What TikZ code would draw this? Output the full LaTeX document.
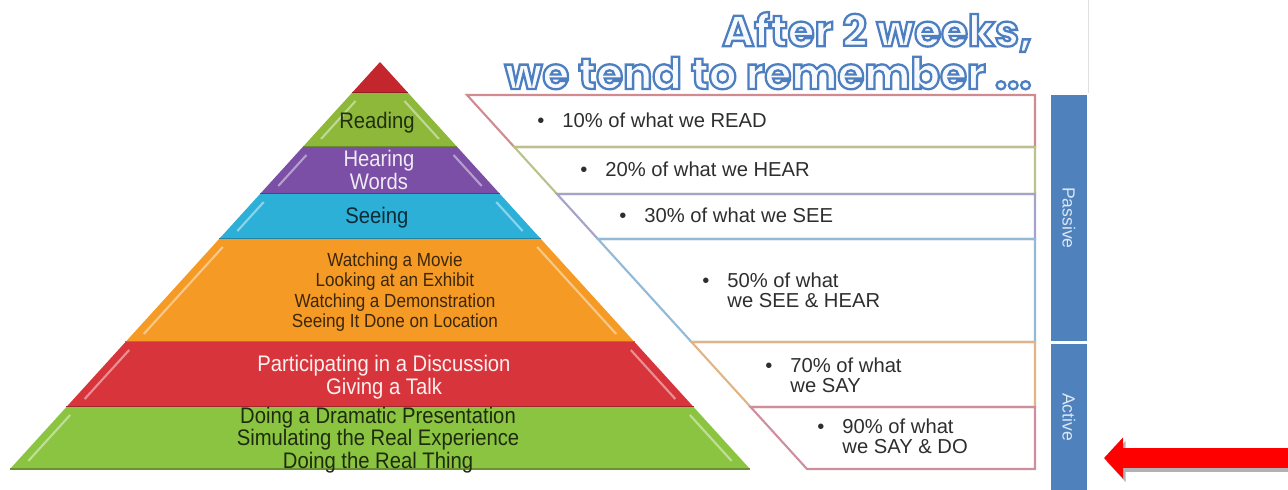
\documentclass[tikz,border=0pt]{standalone}
\usepackage{fontspec}
\setmainfont{Liberation Sans}
\newfontfamily\narrowfont[FakeStretch=0.9]{Liberation Sans}
\newfontfamily\titlefont{Poppins}
\usetikzlibrary{arrows.meta}

\definecolor{tipred}{HTML}{C4262E}
\definecolor{readgreen}{HTML}{8DB83A}
\definecolor{hearpurple}{HTML}{7A4FA5}
\definecolor{seeblue}{HTML}{2DB0D8}
\definecolor{watchorange}{HTML}{F59A25}
\definecolor{talkred}{HTML}{D8343C}
\definecolor{dogreen}{HTML}{8BC440}
\definecolor{rowred}{HTML}{D08A90}
\definecolor{rowgreen}{HTML}{B9C28C}
\definecolor{rowpurple}{HTML}{A3A3CC}
\definecolor{rowblue}{HTML}{92B9D6}
\definecolor{roworange}{HTML}{E2B384}
\definecolor{rowpink}{HTML}{CF8E9E}
\definecolor{barblue}{HTML}{4F81BD}
\definecolor{bartext}{HTML}{DDE7F3}
\definecolor{titlewhite}{HTML}{F6F9FD}
\definecolor{textgray}{HTML}{2E2E2E}

% bullet in front, text lines aligned after it
\newcommand{\point}[1]{\begin{tabular}{@{}l@{\hspace{0.36cm}}l@{}}\textbullet & #1\end{tabular}}
% hollow letters: white fill, blue stroke
\newcommand{\hollow}[1]{\special{pdf:literal direct 2 Tr 1.3 w 0.298 0.494 0.753 RG}#1\special{pdf:literal direct 0 Tr}}

\begin{document}
\begin{tikzpicture}
	[x=0.02cm,y=-0.02cm,
		layer text/.style={align=center,inner sep=0pt,font=\narrowfont\fontsize{12.8}{11.4}\selectfont},
		recall/.style={anchor=west,inner sep=0pt,text=textgray,font=\fontsize{11.5}{11.4}\selectfont},
		bar/.style={fill=barblue,text=bartext,rotate=-90,minimum height=0.72cm,inner sep=0pt,font=\fontsize{10}{12}\selectfont},
		headline/.style={anchor=east,inner sep=0pt,text=titlewhite,font=\titlefont\bfseries\fontsize{24.8}{28}\selectfont},
		red arrow/.style={line width=0.4cm,red,-{Triangle[length=0.38cm,width=0.8cm]}}]

	\useasboundingbox (0,0) rectangle (1288,490);

	% pyramid, apex at (380,62)
	\foreach \yt/\yb/\col in {62/93/tipred, 93/147/readgreen, 147/194/hearpurple, 194/239/seeblue, 239/342/watchorange, 342/407/talkred, 407/469/dogreen}{
		\pgfmathsetmacro\wt{0.909*(\yt-62)}
		\pgfmathsetmacro\wb{0.909*(\yb-62)}
		\pgfmathsetmacro\hb{0.909*(\yb-70)}
		\pgfmathsetmacro\ht{0.909*(\yt-54)}
		\fill[\col] (380-\wt,\yt) -- (380+\wt,\yt) -- (380+\wb,\yb) -- (380-\wb,\yb) -- cycle;
		\draw[\col!75!black,line width=1.2] (380-\wb,\yb) -- (380+\wb,\yb);
		% light bevel on both sides
		\ifnum\yt>62
		\draw[\col!55!white,line width=1.2] (391-\hb,\yb-8) -- (391-\ht,\yt+8);
		\draw[\col!55!white,line width=1.2] (369+\hb,\yb-8) -- (369+\ht,\yt+8);
		\fi
	}

	\node[layer text,text=readgreen!25!black] (reading) at (377,123) {Reading};
	\node[layer text,text=hearpurple!12!white] (hearing) at (379,170) {Hearing\\Words};
	\node[layer text,text=seeblue!25!black] (seeing) at (377,218) {Seeing};
	\node[layer text,text=watchorange!25!black,font=\narrowfont\fontsize{10.8}{11.5}\selectfont] (watching) at (395,292) {Watching a Movie\\Looking at an Exhibit\\Watching a Demonstration\\Seeing It Done on Location};
	\node[layer text,text=talkred!8!white] (talking) at (384,377) {Participating in a Discussion\\Giving a Talk};
	\node[layer text,text=dogreen!22!black] (doing) at (378,440) {Doing a Dramatic Presentation\\Simulating the Real Experience\\Doing the Real Thing};

	% rows of the table, left side slanted like the pyramid
	\foreach \yt/\yb/\col in {95/147/rowred, 147/194/rowgreen, 194/239/rowpurple, 239/342/rowblue, 342/407/roworange, 407/469/rowpink}{
		\pgfmathsetmacro\xt{467+0.909*(\yt-95)}
		\pgfmathsetmacro\xb{467+0.909*(\yb-95)}
		\draw[\col,line width=1.2] (\xt,\yt) -- (1035,\yt) -- (1035,\yb) -- (\xb,\yb) -- cycle;
	}

	\node[recall] (read) at (537,123) {\point{10\% of what we READ}};
	\node[recall] (hear) at (580,172) {\point{20\% of what we HEAR}};
	\node[recall] (see) at (619,218) {\point{30\% of what we SEE}};
	\node[recall] (seehear) at (702,293) {\point{50\% of what\\ & we SEE \& HEAR}};
	\node[recall] (say) at (765,378) {\point{70\% of what\\ & we SAY}};
	\node[recall] (saydo) at (817,439) {\point{90\% of what\\ & we SAY \& DO}};

	\node[headline] (after) at (1032,32) {\hollow{After 2 weeks,}};
	\node[headline] (remember) at (1032,73) {\hollow{we tend to remember ...}};

	\node[bar,minimum width=4.92cm] (passive) at (1069,218) {Passive};
	\node[bar,minimum width=2.92cm] (active) at (1069,417) {Active};
	\draw[black!12] (1088,0) -- (1088,93);

	\coordinate (arrowtail) at (1288,458);
	\coordinate (arrowtip) at (1104,458);
	\draw[red arrow,black!30,transform canvas={shift={(1.5pt,-2pt)}}] (arrowtail) -- (arrowtip);
	\draw[red arrow] (arrowtail) -- (arrowtip);

\end{tikzpicture}
\end{document}
